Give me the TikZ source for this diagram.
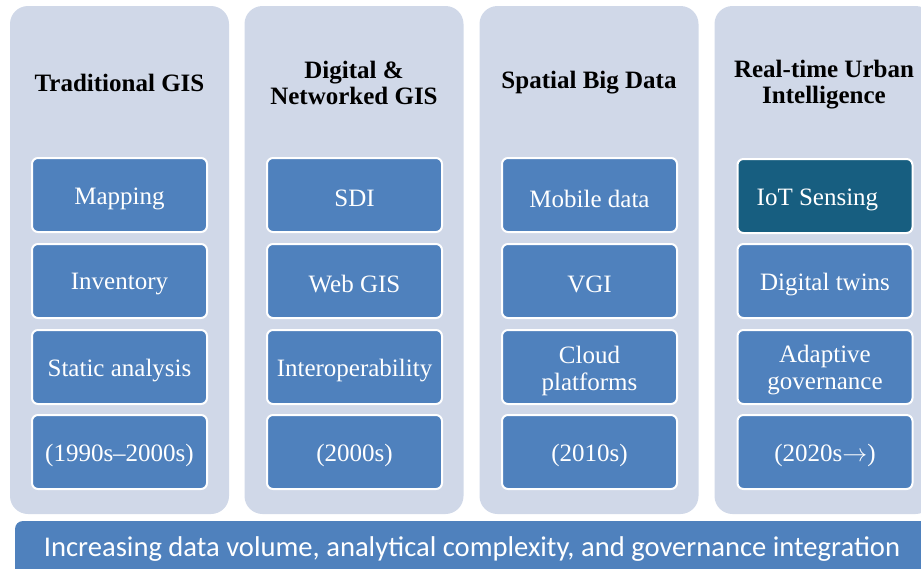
\documentclass[tikz,border=0pt]{standalone}
\usepackage{fontspec}
\setmainfont{Liberation Serif}
\newfontfamily\barfont{Carlito}
\definecolor{panelfill}{HTML}{D0D8E8}
\definecolor{boxblue}{HTML}{4F81BD}
\definecolor{iotblue}{HTML}{175E80}
\tikzset{
  panel/.style={fill=panelfill, draw=none, rounded corners=18pt, minimum width=219pt, minimum height=508pt, inner sep=0pt},
  itembox/.style={fill=boxblue, draw=white, line width=2pt, rounded corners=6pt, minimum width=175pt, minimum height=74pt, inner sep=0pt},
  itemtext/.style={text=white, font=\fontsize{25}{27}\selectfont, align=center, inner sep=0pt},
  ptitle/.style={font=\bfseries\fontsize{25}{26}\selectfont, align=center, inner sep=0pt, text=black},
  bar/.style={fill=boxblue, draw=none, rounded corners=8pt, inner sep=0pt}
}
\newcommand\itm[4][]{\node[itembox,#1] (#2) at (#3) {};
  \node[itemtext] (#2t) at ([yshift=-3.5pt]#2.center) {#4};}
\begin{document}
\begin{tikzpicture}[x=1pt,y=-1pt]
\useasboundingbox (0,0) rectangle (921,568);
% panels
\node[panel] (p1) at (119.5,260) {};
\node[panel] (p2) at (354,260) {};
\node[panel] (p3) at (589,260) {};
\node[panel] (p4) at (824,260) {};
% titles
\node[ptitle] (t1) at (119.5,83) {Traditional GIS};
\node[ptitle] (t2) at (354,83) {Digital \&\\Networked GIS};
\node[ptitle] (t3) at (589,83) {Spatial Big Data};
\node[ptitle] (t4) at (824,84.5) {Real-time Urban\\Intelligence};
% column 1
\itm{a1}{119.5,195}{Mapping}
\itm{a2}{119.5,281}{Inventory}
\itm{a3}{119.5,367}{Static analysis}
\itm{a4}{119.5,452}{(1990s–2000s)}
% column 2
\itm{b1}{354.5,195}{SDI}
\itm{b2}{354.5,281}{Web GIS}
\itm{b3}{354.5,367}{Interoperability}
\itm{b4}{354.5,452}{(2000s)}
% column 3
\itm{c1}{589.5,195}{Mobile data}
\itm{c2}{589.5,281}{VGI}
\itm{c3}{589.5,367}{Cloud\\platforms}
\itm{c4}{589.5,452}{(2010s)}
% column 4
\node[itembox, fill=iotblue] (d1) at (825,196) {};
\node[itemtext, anchor=west] (d1t) at ([xshift=20pt,yshift=-3.5pt]d1.west) {IoT Sensing};
\itm{d2}{825,281}{Digital twins}
\itm{d3}{825,367}{Adaptive\\governance}
\itm{d4}{825,452}{(2020s$\rightarrow$)}
% bottom bar
\fill[boxblue, rounded corners=8pt] (15,521) rectangle (940,590);
\node[text=white, font=\barfont\fontsize{28.6}{30}\selectfont, inner sep=0pt] (bar) at (472,549) {Increasing data volume, analytical complexity, and governance integration};
\end{tikzpicture}
\end{document}
